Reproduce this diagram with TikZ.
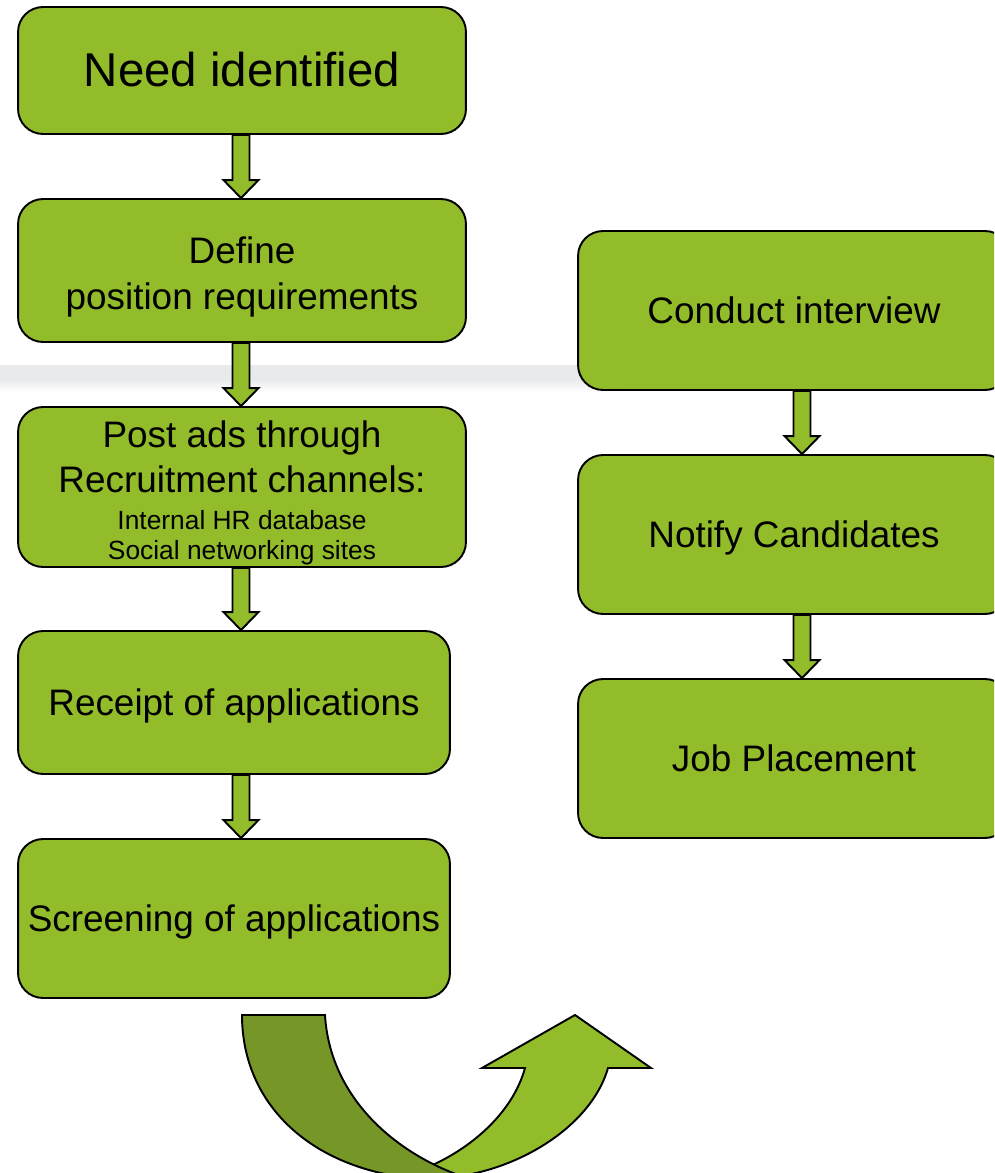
\documentclass[tikz,border=0pt]{standalone}
\usepackage{fontspec}
\setmainfont{Liberation Sans}
\usepackage{tikz}
\usetikzlibrary{positioning,calc}

\definecolor{leafgreen}{RGB}{147,188,43}
\definecolor{olivegreen}{RGB}{118,150,40}
\definecolor{bandgray}{RGB}{233,234,236}
\newcommand{\pptstrut}{\rule[-0.212em]{0pt}{1.117em}}
\newcommand{\headroom}{\rule{0pt}{1.09em}}

\begin{document}
\begin{tikzpicture}[x=0.02cm, y=-0.02cm,
    stage/.style={draw, line width=1.1pt, fill=leafgreen, rounded corners=0.5cm,
      align=center, inner sep=0pt, font=\fontsize{21}{26}\selectfont,
      execute at begin node=\pptstrut, execute at end node=\pptstrut},
    flowarrow/.style={draw, line width=1.1pt, fill=leafgreen, line join=miter}]
  \useasboundingbox (0,0) rectangle (994,1173);
  \clip (0,0) rectangle (994,1173);
  % grey band of the slide
  \fill[bandgray] (0,365) rectangle (620,379);
  \shade[top color=bandgray, bottom color=white] (0,379) rectangle (620,392);

  % left column
  \node[stage, minimum width=8.96cm, minimum height=2.54cm, font=\fontsize{27}{32}\selectfont] (need) at (242,70.5) {Need identified};
  \node[stage, minimum width=8.96cm, minimum height=2.86cm] (define) at (242,270.5) {\headroom Define\\position requirements};
  \node[stage, minimum width=8.96cm, minimum height=3.2cm] (post) at (242,487)
    {\headroom Post ads through\\Recruitment channels:\\[-5.3pt]{\fontsize{15}{17}\selectfont Internal HR database}\\[-9pt]{\fontsize{15}{17}\selectfont Social networking sites}};
  \node[stage, minimum width=8.64cm, minimum height=2.86cm] (receipt) at (234,702.5) {Receipt of applications};
  \node[stage, minimum width=8.64cm, minimum height=3.18cm] (screening) at (234,918.5) {Screening of applications};

  % right column
  \node[stage, minimum width=8.64cm, minimum height=3.18cm] (interview) at (794,310.5) {Conduct interview};
  \node[stage, minimum width=8.64cm, minimum height=3.18cm] (notify) at (794,534.5) {Notify Candidates};
  \node[stage, minimum width=8.64cm, minimum height=3.18cm] (placement) at (794,758.5) {Job Placement};

  \coordinate (leftcol) at (241,0);
  \coordinate (rightcol) at (802,0);

  % block arrows
  \foreach \a/\b/\c in {need/define/leftcol, define/post/leftcol, post/receipt/leftcol,
      receipt/screening/leftcol, interview/notify/rightcol, notify/placement/rightcol}
    \draw[flowarrow] ($(\c |- \a.south)+(-8.5,0)$) -- ($(\c |- \b.north)+(-8.5,-18)$)
      -- ($(\c |- \b.north)+(-17.5,-18)$) -- (\c |- \b.north) -- ($(\c |- \b.north)+(17.5,-18)$)
      -- ($(\c |- \b.north)+(8.5,-18)$) -- ($(\c |- \a.south)+(8.5,0)$) -- cycle;

  % curved up arrow
  \draw[flowarrow] (525,1068) -- (482,1068) -- (575,1015) -- (651,1068) -- (608,1068)
    .. controls (590,1130) and (510,1175) .. (440,1178) -- (428,1167)
    .. controls (468,1150) and (512,1115) .. (525,1068) -- cycle;
  \draw[flowarrow, fill=olivegreen] (242,1015) -- (325,1015)
    .. controls (330,1100) and (400,1160) .. (480,1182) -- (440,1180)
    .. controls (320,1178) and (242,1110) .. (242,1015) -- cycle;
\end{tikzpicture}
\end{document}
